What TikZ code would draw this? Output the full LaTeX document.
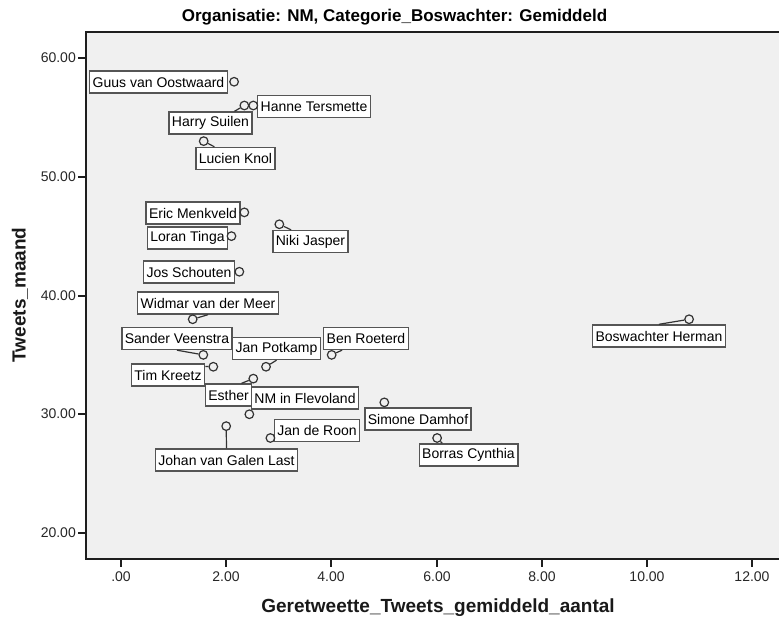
\documentclass[tikz,border=0pt]{standalone}
\usepackage{fontspec}
\setmainfont{Liberation Sans}
\definecolor{plotbg}{HTML}{F0F0F0}
\definecolor{boxgray}{HTML}{555555}
\definecolor{ptgray}{HTML}{333333}
\definecolor{axisgray}{HTML}{1E1E1E}
\begin{document}
\begin{tikzpicture}[x=1pt,y=-1pt,
  lbl/.style={draw=boxgray, fill=white, line width=1.4pt, inner xsep=3pt,
    inner ysep=0pt, minimum height=22pt, text=black,
    font=\fontsize{14}{16}\selectfont},
  dot/.style={circle, draw=ptgray, line width=1.2pt, minimum size=8.6pt, inner sep=0pt},
  lead/.style={draw=ptgray, line width=1.2pt},
  axisline/.style={draw=axisgray, line width=1.5pt},
  ticklbl/.style={font=\fontsize{14}{16}\selectfont, text=black!85, inner sep=0pt},
  axtitle/.style={font=\bfseries\fontsize{19}{22}\selectfont, text=black!90, inner sep=0pt}]

\useasboundingbox (0,0) rectangle (779,621);

% plot area
\fill[plotbg] (86,32) rectangle (779,559);
\draw[axisline] (779,32) -- (86,32) -- (86,559) -- (779,559);

% y axis ticks
\foreach \v/\py in {60.00/58, 50.00/177, 40.00/296, 30.00/414, 20.00/533}{
  \draw[axisline] (78,\py) -- (86,\py);
  \node[ticklbl, anchor=east] at (76,\py) {\v};
}
% x axis ticks
\foreach \v/\px in {.00/121, 2.00/226, 4.00/331, 6.00/437, 8.00/542, 10.00/647, 12.00/752}{
  \draw[axisline] (\px,559) -- (\px,567);
  \node[ticklbl] at (\px,577) {\v};
}

% titles
\node[font=\bfseries\fontsize{17}{20}\selectfont, inner sep=0pt] (title) at (394.5,17)
  {Organisatie: NM, Categorie\_Boswachter: Gemiddeld};
\node[axtitle] (xtitle) at (438,608) {Geretweette\_Tweets\_gemiddeld\_aantal};
\node[axtitle, rotate=90] (ytitle) at (20,295) {Tweets\_maand};

% labels
\node[lbl] (guusL)   at (158.5,82)  {Guus van Oostwaard};
\node[lbl] (hanneL)  at (314,106.5) {Hanne Tersmette};
\node[lbl] (harryL)  at (210.5,123) {Harry Suilen};
\node[lbl] (lucienL) at (235.5,158.5) {Lucien Knol};
\node[lbl] (ericL)   at (193,213)   {Eric Menkveld};
\node[lbl] (loranL)  at (187.5,238) {Loran Tinga};
\node[lbl] (nikiL)   at (310.5,241.5) {Niki Jasper};
\node[lbl] (josL)    at (189,272)   {Jos Schouten};
\node[lbl] (widmarL) at (208,303)   {Widmar van der Meer};
\node[lbl] (sanderL) at (177,338.5) {Sander Veenstra};
\node[lbl] (janpL)   at (276.5,348.5) {Jan Potkamp};
\node[lbl] (benL)    at (366,338.5) {Ben Roeterd};
\node[lbl] (timL)    at (168,375)   {Tim Kreetz};
\node[lbl] (estherL) at (228.5,395) {Esther};
\node[lbl] (nmL)     at (305,398)   {NM in Flevoland};
\node[lbl] (simoneL) at (418,419)   {Simone Damhof};
\node[lbl] (borrasL) at (468.5,455) {Borras Cynthia};
\node[lbl] (janrL)   at (317,430.5) {Jan de Roon};
\node[lbl] (johanL)  at (226.5,460) {Johan van Galen Last};
\node[lbl] (boswL)   at (659,336)   {Boswachter Herman};

% data points (x = average retweets, y = tweets per month)
\begin{scope}[shift={(121pt,-770.5pt)}, x=52.6pt, y=11.875pt]
  \node[dot] (guusP)   at (2.15,58) {};
  \node[dot] (hanneP)  at (2.515,56) {};
  \node[dot] (harryP)  at (2.345,56) {};
  \node[dot] (lucienP) at (1.572,53) {};
  \node[dot] (ericP)   at (2.345,47) {};
  \node[dot] (loranP)  at (2.10,45) {};
  \node[dot] (nikiP)   at (3.01,46) {};
  \node[dot] (josP)    at (2.25,42) {};
  \node[dot] (widmarP) at (1.363,38) {};
  \node[dot] (sanderP) at (1.565,35) {};
  \node[dot] (janpP)   at (2.757,34) {};
  \node[dot] (benP)    at (4.005,35) {};
  \node[dot] (timP)    at (1.755,34) {};
  \node[dot] (estherP) at (2.515,33) {};
  \node[dot] (nmP)     at (2.44,30) {};
  \node[dot] (simoneP) at (5.006,31) {};
  \node[dot] (borrasP) at (6.01,28) {};
  \node[dot] (janrP)   at (2.84,28) {};
  \node[dot] (johanP)  at (2.0,29) {};
  \node[dot] (boswP)   at (10.80,38) {};
\end{scope}

% leader lines from points to their labels
\draw[lead] (harryP) -- (harryL.26);
\draw[lead] (lucienP) -- (lucienL.151);
\draw[lead] (nikiP) -- (nikiL.149);
\draw[lead] (widmarP) -- (widmarL.south);
\draw[lead] (sanderP) -- (sanderL.south);
\draw[lead] (timP) -- (timL.13);
\draw[lead] (janpP) -- (janpL.south);
\draw[lead] (benP) -- (benL.206);
\draw[lead] (estherP) -- (estherL.42);
\draw[lead] (johanP) -- (johanL.north);
\draw[lead] (boswP) -- (boswL.north);
\draw[lead] (borrasP) -- (borrasL.156);

\end{tikzpicture}
\end{document}
